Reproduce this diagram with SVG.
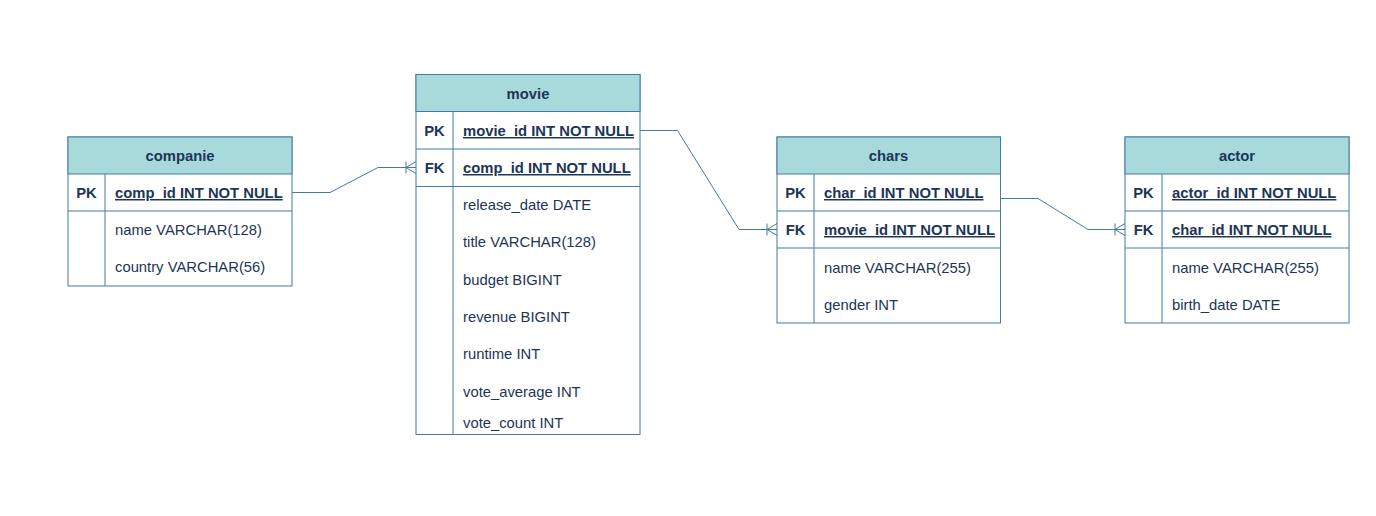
<svg xmlns="http://www.w3.org/2000/svg" width="1376" height="516" viewBox="0 0 1376 516">
<defs>
<style>
.box{fill:#ffffff;stroke:#457B9D;stroke-width:1}
.hdr{fill:#A8DADC;stroke:#457B9D;stroke-width:1}
.ln{stroke:#457B9D;stroke-width:1;fill:none}
text{font-family:"Liberation Sans",Arial,Helvetica,sans-serif;font-size:14.8px;fill:#1D3557}
.t{font-weight:bold;text-anchor:middle}
.k{font-weight:bold;text-anchor:middle}
.kf{font-weight:bold;text-decoration:underline}
</style>
<marker id="many" markerUnits="userSpaceOnUse" markerWidth="14" markerHeight="16" viewBox="-12 -8 14 16" refX="0" refY="0" orient="auto">
<path d="M-10,-6 L-10,6 M-10,0 L0,-6 M-10,0 L0,6 M-10,0 L0,0" stroke="#457B9D" stroke-width="1" fill="none"/>
</marker>
</defs>
<rect width="1376" height="516" fill="#ffffff"/>

<g id="connectors">
<polyline class="ln" points="292,192.5 330,192.5 378,167.5 416,167.5" marker-end="url(#many)"/>
<polyline class="ln" points="640,130.5 677.5,130.5 739,229.5 777,229.5" marker-end="url(#many)"/>
<polyline class="ln" points="1000,198.5 1038,198.5 1088,229.5 1125,229.5" marker-end="url(#many)"/>
</g>

<g id="companie">
<rect class="box" x="68" y="137" width="224" height="149"/>
<rect class="hdr" x="68" y="137" width="224" height="37"/>
<line class="ln" x1="68" y1="211" x2="292" y2="211"/>
<line class="ln" x1="105" y1="174" x2="105" y2="286"/>
<text class="t" x="180" y="161">companie</text>
<text class="k" x="86.5" y="198">PK</text>
<text class="kf" x="115" y="198">comp_id INT NOT NULL</text>
<text x="115" y="235">name VARCHAR(128)</text>
<text x="115" y="272">country VARCHAR(56)</text>
</g>

<g id="movie">
<rect class="box" x="416" y="74.5" width="224" height="360"/>
<rect class="hdr" x="416" y="74.5" width="224" height="37"/>
<line class="ln" x1="416" y1="149" x2="640" y2="149"/>
<line class="ln" x1="416" y1="186.5" x2="640" y2="186.5"/>
<line class="ln" x1="453" y1="111.5" x2="453" y2="434.5"/>
<text class="t" x="528" y="99">movie</text>
<text class="k" x="434.5" y="136">PK</text>
<text class="kf" x="463" y="136">movie_id INT NOT NULL</text>
<text class="k" x="434.5" y="173">FK</text>
<text class="kf" x="463" y="173">comp_id INT NOT NULL</text>
<text x="463" y="210">release_date DATE</text>
<text x="463" y="247">title VARCHAR(128)</text>
<text x="463" y="285">budget BIGINT</text>
<text x="463" y="322">revenue BIGINT</text>
<text x="463" y="359">runtime INT</text>
<text x="463" y="397">vote_average INT</text>
<text x="463" y="428">vote_count INT</text>
</g>

<g id="chars">
<rect class="box" x="777" y="137" width="223.5" height="186"/>
<rect class="hdr" x="777" y="137" width="223.5" height="37"/>
<line class="ln" x1="777" y1="211" x2="1000.5" y2="211"/>
<line class="ln" x1="777" y1="248" x2="1000.5" y2="248"/>
<line class="ln" x1="814" y1="174" x2="814" y2="323"/>
<text class="t" x="888.5" y="161">chars</text>
<text class="k" x="795.5" y="198">PK</text>
<text class="kf" x="824" y="198">char_id INT NOT NULL</text>
<text class="k" x="795.5" y="235">FK</text>
<text class="kf" x="824" y="235">movie_id INT NOT NULL</text>
<text x="824" y="273">name VARCHAR(255)</text>
<text x="824" y="310">gender INT</text>
</g>

<g id="actor">
<rect class="box" x="1125" y="137" width="224" height="186"/>
<rect class="hdr" x="1125" y="137" width="224" height="37"/>
<line class="ln" x1="1125" y1="211" x2="1349" y2="211"/>
<line class="ln" x1="1125" y1="248" x2="1349" y2="248"/>
<line class="ln" x1="1162" y1="174" x2="1162" y2="323"/>
<text class="t" x="1237" y="161">actor</text>
<text class="k" x="1143.5" y="198">PK</text>
<text class="kf" x="1172" y="198">actor_id INT NOT NULL</text>
<text class="k" x="1143.5" y="235">FK</text>
<text class="kf" x="1172" y="235">char_id INT NOT NULL</text>
<text x="1172" y="273">name VARCHAR(255)</text>
<text x="1172" y="310">birth_date DATE</text>
</g>
</svg>
